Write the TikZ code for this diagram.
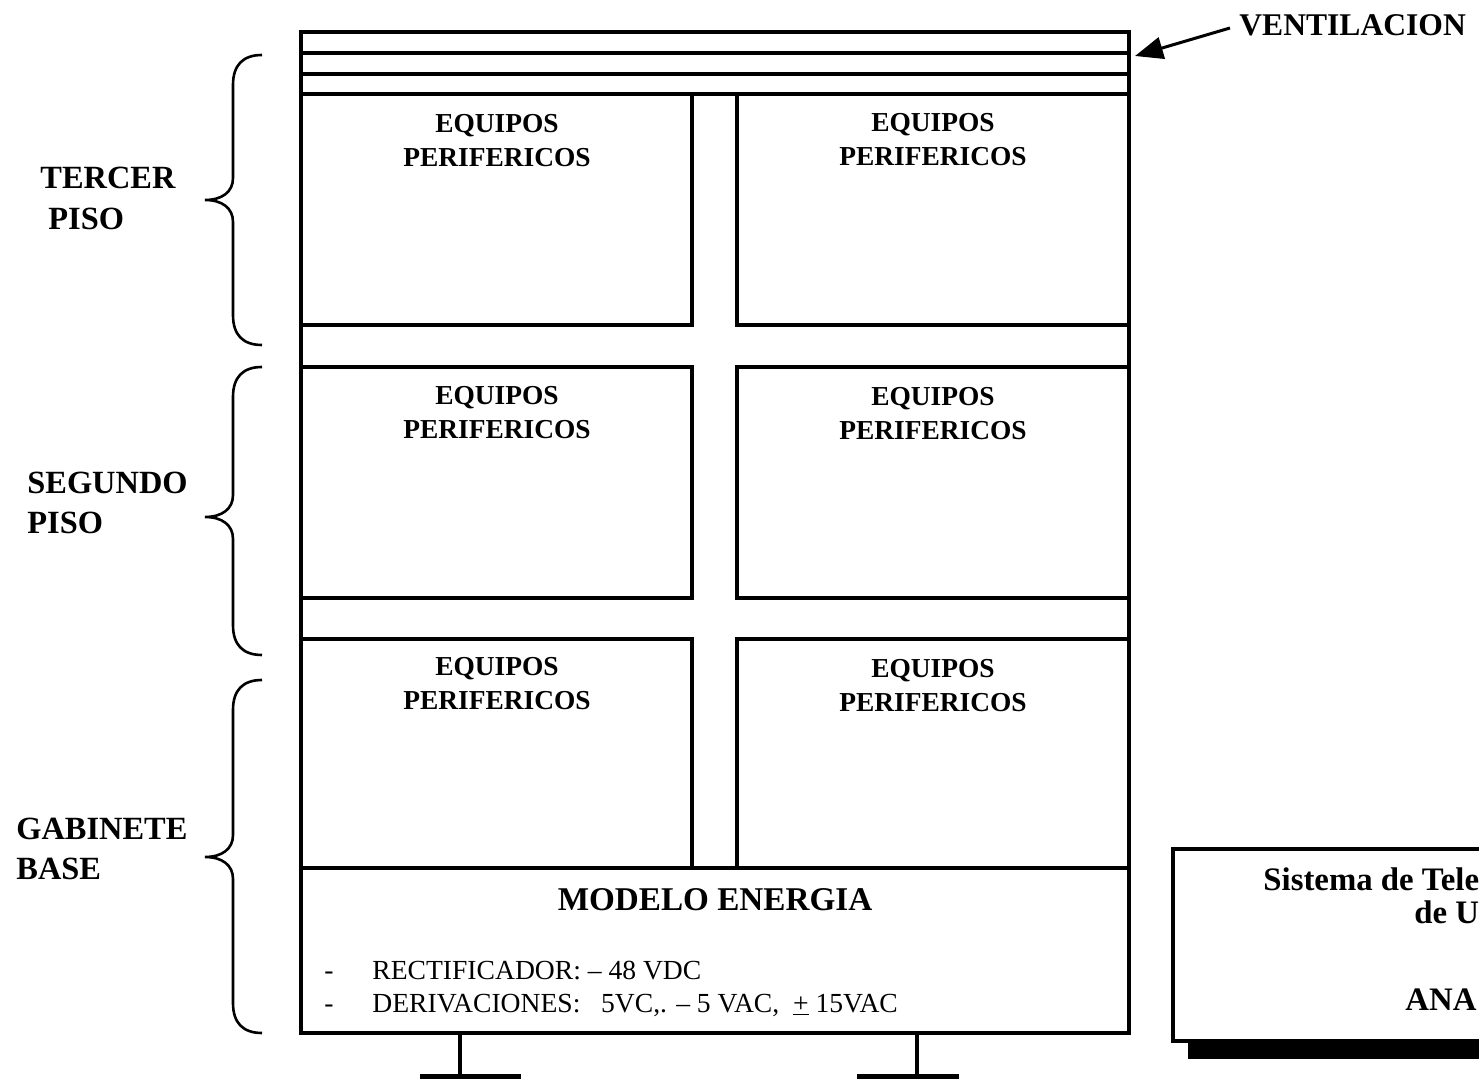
\documentclass[tikz,border=0pt]{standalone}
\usepackage{fontspec}
\setmainfont{Liberation Serif}
\usetikzlibrary{arrows.meta}
\begin{document}
\begin{tikzpicture}[x=0.5pt,y=-0.5pt,
  frame/.style={draw=black,line width=1.6pt},
  bracestroke/.style={draw=black,line width=1.3pt},
  floorlabel/.style={font=\fontsize{16.2}{20}\selectfont\bfseries,anchor=west,inner sep=0pt},
  unitlabel/.style={font=\fontsize{13.7}{17}\selectfont\bfseries,align=center,inner sep=0pt},
  speclabel/.style={font=\fontsize{13.8}{16}\selectfont,anchor=base west,inner sep=0pt},
  titlelabel/.style={font=\fontsize{16.4}{19}\selectfont\bfseries,anchor=west,inner sep=0pt}]
\useasboundingbox (0,0) rectangle (1479,1079);
\clip (0,0) rectangle (1479,1079);

% cabinet outline and ventilation slots
\draw[frame] (301,32) rectangle (1129,1033);
\foreach \y in {53,74,94} \draw[frame] (301,\y) -- (1129,\y);

% equipment bays, two per floor
\foreach \t/\b in {94/325,367/598,639/868} {
  \draw[frame] (301,\t) rectangle (692,\b);
  \draw[frame] (737,\t) rectangle (1129,\b);
}
\draw[frame] (301,868) -- (1129,868);

\node[unitlabel] (b11) at (497,141) {EQUIPOS\\PERIFERICOS};
\node[unitlabel] (b12) at (933,140) {EQUIPOS\\PERIFERICOS};
\node[unitlabel] (b21) at (497,413) {EQUIPOS\\PERIFERICOS};
\node[unitlabel] (b22) at (933,414) {EQUIPOS\\PERIFERICOS};
\node[unitlabel] (b31) at (497,684) {EQUIPOS\\PERIFERICOS};
\node[unitlabel] (b32) at (933,686) {EQUIPOS\\PERIFERICOS};

% power module
\node[font=\fontsize{16.6}{20}\selectfont\bfseries,inner sep=0pt] (energy) at (715,900) {MODELO ENERGIA};
\node[speclabel] (d1) at (324,979) {-};
\node[speclabel] (s1) at (372,979) {RECTIFICADOR: -- 48 VDC};
\node[speclabel] (d2) at (324,1012) {-};
\node[speclabel] (s2) at (372,1012) {DERIVACIONES:\ \ \ 5VC,. -- 5 VAC,\ \ \underline{+} 15VAC};

% feet
\draw[frame] (460,1033) -- (460,1076);
\fill (420,1074) rectangle (521,1090);
\draw[frame] (917,1033) -- (917,1076);
\fill (857,1074) rectangle (959,1090);

% floor braces
\foreach \t/\m/\b in {55/200/345, 367/517/655, 680/857/1033}
  \draw[bracestroke] (262,\t) .. controls (243,\t) and (233,\t+10) .. (233,\t+30)
    -- (233,\m-22) .. controls (233,\m-8) and (222,\m) .. (205,\m)
    .. controls (222,\m) and (233,\m+8) .. (233,\m+22)
    -- (233,\b-30) .. controls (233,\b-10) and (243,\b) .. (262,\b);

\node[floorlabel] (f3a) at (40,178) {TERCER};
\node[floorlabel] (f3b) at (48,219) {PISO};
\node[floorlabel] (f2a) at (27,483) {SEGUNDO};
\node[floorlabel] (f2b) at (27,523) {PISO};
\node[floorlabel] (f1a) at (16,829) {GABINETE};
\node[floorlabel] (f1b) at (16,869) {BASE};

% ventilation callout
\node[font=\fontsize{15.8}{18}\selectfont\bfseries,anchor=west,inner sep=0pt] (vent) at (1239,25) {VENTILACION};
\coordinate (venttail) at (1230,28);
\coordinate (venttip) at (1135,56);
\draw[line width=1.5pt,-{Triangle[length=14pt,width=11pt]}] (venttail) -- (venttip);

% title block
\draw[frame] (1173,849) rectangle (1500,1041);
\fill (1188,1042) rectangle (1500,1059);
\node[titlelabel] (t1) at (1263,879) {Sistema de Tele};
\node[titlelabel] (t2) at (1414,912) {de U};
\node[titlelabel] (t3) at (1405,1000) {ANA};
\end{tikzpicture}
\end{document}
